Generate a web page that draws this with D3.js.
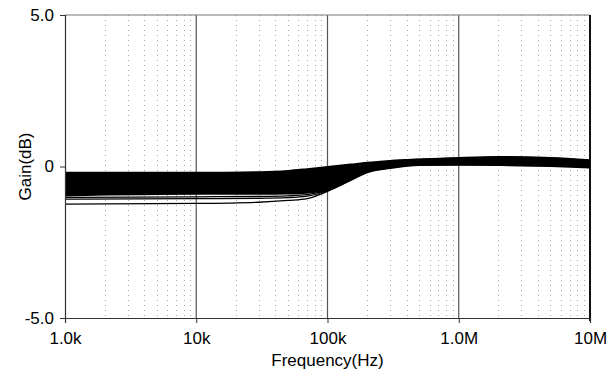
<!DOCTYPE html>
<html lang="en">
<head>
<meta charset="utf-8">
<script src="https://d3js.org/d3.v7.min.js"></script>
<style>
  body { margin: 0; background: #fff; }
  text { font-family: "Liberation Sans", Arial, sans-serif; }
</style>
</head>
<body>
<script>
  var width = 607,
      height = 369;

  // frequencies (Hz) where the traces are sampled
  var freqs = [1e3, 1e4, 3e4, 5e4, 7e4, 1e5, 1.5e5, 2e5, 3e5, 5e5, 1e6, 2e6, 5e6, 1e7];

  // gain traces (dB), top of the band to bottom
  var trace1 = [-0.24, -0.24, -0.22, -0.18, -0.12, -0.05, 0.03, 0.09, 0.15, 0.20, 0.25, 0.28, 0.25, 0.17];
  var trace2 = [-0.33, -0.32, -0.30, -0.27, -0.21, -0.14, -0.03, 0.06, 0.13, 0.19, 0.23, 0.26, 0.23, 0.15];
  var trace3 = [-0.41, -0.40, -0.38, -0.35, -0.30, -0.22, -0.08, 0.03, 0.11, 0.17, 0.21, 0.23, 0.20, 0.13];
  var trace4 = [-0.50, -0.48, -0.46, -0.44, -0.39, -0.31, -0.14, 0.00, 0.09, 0.16, 0.19, 0.21, 0.18, 0.11];
  var trace5 = [-0.58, -0.56, -0.55, -0.52, -0.48, -0.40, -0.19, -0.04, 0.07, 0.14, 0.17, 0.18, 0.15, 0.09];
  var trace6 = [-0.67, -0.63, -0.63, -0.61, -0.56, -0.48, -0.25, -0.07, 0.04, 0.13, 0.15, 0.16, 0.13, 0.06];
  var trace7 = [-0.75, -0.71, -0.71, -0.69, -0.65, -0.57, -0.30, -0.10, 0.02, 0.11, 0.13, 0.13, 0.10, 0.04];
  var trace8 = [-0.84, -0.79, -0.79, -0.78, -0.74, -0.65, -0.36, -0.13, 0.00, 0.10, 0.11, 0.11, 0.08, 0.02];
  var trace9 = [-0.92, -0.87, -0.87, -0.86, -0.83, -0.74, -0.41, -0.16, -0.02, 0.08, 0.09, 0.08, 0.05, 0.00];
  // the few runs that sit below the main band
  var low1 = [-1.02, -1.00, -0.99, -0.97, -0.93, -0.78, -0.43, -0.17, -0.03, 0.07, 0.09, 0.08, 0.05, 0.00];
  var low2 = [-1.08, -1.06, -1.05, -1.03, -0.98, -0.80, -0.44, -0.17, -0.03, 0.07, 0.09, 0.08, 0.05, 0.00];
  var low3 = [-1.24, -1.22, -1.18, -1.12, -1.06, -0.82, -0.45, -0.18, -0.03, 0.07, 0.09, 0.08, 0.05, 0.01];

  var bandTraces = [trace1, trace2, trace3, trace4, trace5, trace6, trace7, trace8, trace9];
  var lowTraces = [low1, low2, low3];

  var xTicks = [1e3, 1e4, 1e5, 1e6, 1e7];
  var xTickLabels = ["1.0k", "10k", "100k", "1.0M", "10M"];
  var yTicks = [5, 0, -5];
  var yTickLabels = ["5.0", "0", "-5.0"];

  // plot box
  var plotL = 65, plotR = 590, plotT = 15, plotB = 318;

  var svg = d3.select("body").append("svg")
    .attr("width", width)
    .attr("height", height);

  var x = d3.scaleLog().domain([1e3, 1e7]).range([plotL, plotR]);
  var y = d3.scaleLinear().domain([-5, 5]).range([plotB, plotT]);

  // minor dotted grid, 2..9 in each decade
  var minor = [];
  [1e3, 1e4, 1e5, 1e6].forEach(function(dec) {
    for (var k = 2; k <= 9; k++) minor.push(dec * k);
  });
  svg.append("g").selectAll("line")
    .data(minor)
    .join("line")
    .attr("x1", function(d) { return Math.round(x(d)) + 0.5; })
    .attr("x2", function(d) { return Math.round(x(d)) + 0.5; })
    .attr("y1", plotT)
    .attr("y2", plotB)
    .attr("stroke", "#a8a8a8")
    .attr("stroke-width", 1)
    .attr("stroke-dasharray", "1,4");

  // major decade lines
  svg.append("g").selectAll("line")
    .data([1e4, 1e5, 1e6])
    .join("line")
    .attr("x1", function(d) { return x(d); })
    .attr("x2", function(d) { return x(d); })
    .attr("y1", plotT)
    .attr("y2", plotB)
    .attr("stroke", "#555")
    .attr("stroke-width", 1.2);

  // frame
  svg.append("line").attr("x1", plotL).attr("x2", plotR).attr("y1", plotT).attr("y2", plotT)
    .attr("stroke", "#777").attr("stroke-width", 1.2);
  svg.append("line").attr("x1", plotR).attr("x2", plotR).attr("y1", plotT).attr("y2", plotB + 3)
    .attr("stroke", "#111").attr("stroke-width", 2);

  var line = d3.line()
    .x(function(d, i) { return x(freqs[i]); })
    .y(function(d) { return y(d); })
    .curve(d3.curveMonotoneX);

  svg.append("g").selectAll("path")
    .data(bandTraces)
    .join("path")
    .attr("d", line)
    .attr("fill", "none")
    .attr("stroke", "#000")
    .attr("stroke-width", 4);

  svg.append("g").selectAll("path")
    .data(lowTraces)
    .join("path")
    .attr("d", line)
    .attr("fill", "none")
    .attr("stroke", "#000")
    .attr("stroke-width", 1.3);

  // axes
  var xAxis = d3.axisBottom(x)
    .tickValues(xTicks)
    .tickFormat(function(d, i) { return xTickLabels[i]; })
    .tickSize(5)
    .tickPadding(9);
  var gx = svg.append("g").attr("transform", "translate(0," + plotB + ")").call(xAxis);
  gx.select(".domain").attr("stroke", "#333").attr("stroke-width", 1.2);
  gx.selectAll(".tick line").attr("stroke", "#333");
  gx.selectAll("text").attr("fill", "#000").style("font-size", "17px")
    .style("font-family", "'Liberation Sans', Arial, sans-serif");

  var yAxis = d3.axisLeft(y)
    .tickValues(yTicks)
    .tickFormat(function(d, i) { return yTickLabels[i]; })
    .tickSize(5)
    .tickPadding(6);
  var gy = svg.append("g").attr("transform", "translate(" + plotL + ",0)").call(yAxis);
  gy.select(".domain").attr("stroke", "#333").attr("stroke-width", 1.2);
  gy.selectAll(".tick line").attr("stroke", "#333");
  gy.selectAll("text").attr("fill", "#000").style("font-size", "17px")
    .style("font-family", "'Liberation Sans', Arial, sans-serif");

  // axis titles
  svg.append("text")
    .attr("x", (plotL + plotR) / 2)
    .attr("y", 366)
    .attr("text-anchor", "middle")
    .style("font-size", "17px")
    .text("Frequency(Hz)");

  svg.append("text")
    .attr("transform", "translate(31," + y(0) + ") rotate(-90)")
    .attr("text-anchor", "middle")
    .style("font-size", "17px")
    .text("Gain(dB)");
</script>
</body>
</html>
